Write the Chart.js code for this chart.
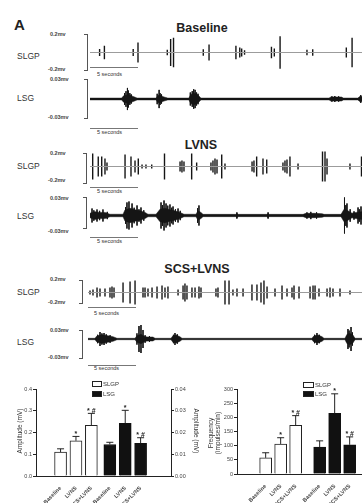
<!DOCTYPE html>
<html>
<head>
<meta charset="utf-8">
<script src="https://cdn.jsdelivr.net/npm/chart.js@4.4.0/dist/chart.umd.min.js"></script>
<style>
  body { margin:0; width:362px; height:503px; overflow:hidden; background:#fff; position:relative;
         font-family:"Liberation Sans", Arial, sans-serif; color:#222; }
  .t { position:absolute; white-space:nowrap; line-height:1; }
  canvas { position:absolute; }
  .panel { font-weight:bold; font-size:15px; }
  .title { font-weight:bold; font-size:12.5px; transform:translate(-50%,-50%); }
  .ch { font-size:8.5px; transform:translateY(-50%); color:#333; }
  .mv { font-size:5.5px; font-weight:bold; transform:translateY(-50%); color:#444; }
  .sec { font-size:5.5px; transform:translateY(-50%); color:#333; }
  .brk { position:absolute; width:3px; border:1px solid #555; border-left:none; }
  .bar { position:absolute; height:0; border-top:1px solid #777; }
  .ytl { font-size:6.5px; transform:translate(-50%,-50%) rotate(-90deg); text-align:center; color:#333; }
  .ytr { font-size:6.5px; transform:translate(-50%,-50%) rotate(90deg); color:#333; }
  .lgbox { position:absolute; width:8px; height:4px; border:1px solid #222; }
  .lg { font-size:6px; transform:translateY(-50%); color:#333; }
</style>
</head>
<body>

<div class="t panel" style="left:14px;top:17px">A</div>

<!-- Baseline -->
<div class="t title" style="left:202px;top:28px">Baseline</div>
<div class="t ch" style="left:17px;top:56px">SLGP</div>
<div class="t mv" style="left:50px;top:35px">0.2mv</div>
<div class="t mv" style="left:48px;top:70px">-0.2mv</div>
<div class="brk" style="left:84px;top:34px;height:35px"></div>
<div class="bar" style="left:90px;top:67px;width:48px"></div>
<div class="t sec" style="left:97px;top:75px">5 seconds</div>
<div class="t ch" style="left:17px;top:98px">LSG</div>
<div class="t mv" style="left:50px;top:80px">0.03mv</div>
<div class="t mv" style="left:48px;top:118px">-0.03mv</div>
<div class="brk" style="left:84px;top:79px;height:38px"></div>
<div class="bar" style="left:90px;top:128px;width:48px"></div>
<div class="t sec" style="left:97px;top:133px">5 seconds</div>

<!-- LVNS -->
<div class="t title" style="left:201px;top:145px">LVNS</div>
<div class="t ch" style="left:17px;top:166px">SLGP</div>
<div class="t mv" style="left:50px;top:154px">0.2mv</div>
<div class="t mv" style="left:48px;top:181px">-0.2mv</div>
<div class="brk" style="left:83px;top:153px;height:29px"></div>
<div class="bar" style="left:90px;top:187px;width:48px"></div>
<div class="t sec" style="left:97px;top:192px">5 seconds</div>
<div class="t ch" style="left:17px;top:216px">LSG</div>
<div class="t mv" style="left:50px;top:199px">0.03mv</div>
<div class="t mv" style="left:48px;top:232px">-0.03mv</div>
<div class="brk" style="left:83px;top:197px;height:30px"></div>
<div class="bar" style="left:90px;top:237px;width:48px"></div>
<div class="t sec" style="left:97px;top:242px">5 seconds</div>

<!-- SCS+LVNS -->
<div class="t title" style="left:197px;top:269px">SCS+LVNS</div>
<div class="t ch" style="left:17px;top:292px">SLGP</div>
<div class="t mv" style="left:50px;top:280px">0.2mv</div>
<div class="t mv" style="left:48px;top:303px">-0.2mv</div>
<div class="brk" style="left:79px;top:280px;height:22px"></div>
<div class="bar" style="left:88px;top:307px;width:48px"></div>
<div class="t sec" style="left:94px;top:314px">5 seconds</div>
<div class="t ch" style="left:17px;top:342px">LSG</div>
<div class="t mv" style="left:50px;top:331px">0.03mv</div>
<div class="t mv" style="left:48px;top:358px">-0.03mv</div>
<div class="brk" style="left:79px;top:330px;height:27px"></div>
<div class="bar" style="left:88px;top:365px;width:48px"></div>
<div class="t sec" style="left:94px;top:369px">5 seconds</div>

<canvas id="blSlgp"></canvas>
<canvas id="blLsg"></canvas>
<canvas id="lvSlgp"></canvas>
<canvas id="lvLsg"></canvas>
<canvas id="scSlgp"></canvas>
<canvas id="scLsg"></canvas>

<canvas id="ampChart"></canvas>
<canvas id="freqChart"></canvas>

<!-- axis titles and legends of the bar charts -->
<div class="t ytl" style="left:20px;top:431px">Amplitude (mV)</div>
<div class="t ytr" style="left:196px;top:431px">Amplitude (mV)</div>
<div class="t ytl" style="left:214px;top:433px;line-height:7px">Frequency<br>(impulses/min)</div>

<div class="lgbox" style="left:92px;top:381px;background:#fff"></div>
<div class="t lg" style="left:103px;top:384px">SLGP</div>
<div class="lgbox" style="left:92px;top:391px;background:#111"></div>
<div class="t lg" style="left:103px;top:394px">LSG</div>

<div class="lgbox" style="left:303px;top:382px;background:#fff;width:9px"></div>
<div class="t lg" style="left:315px;top:385px">SLGP</div>
<div class="lgbox" style="left:303px;top:391px;background:#111;width:9px"></div>
<div class="t lg" style="left:315px;top:394px">LSG</div>

<script>
const FONT = '"Liberation Sans", Arial, sans-serif';
const PX_PER_SEC = 9.6;

// ---- nerve recordings: spike times (s) and half-amplitudes (mV) ----
const baseSlgpT   = [1.0, 1.5, 4.5, 5.0, 8.05, 8.4, 8.7, 11.8, 12.4, 15.2, 15.6, 15.8, 16.1, 18.9, 19.2, 19.8, 22.6, 23.2, 26.7, 27.3];
const baseSlgpAmp = [0.04, 0.075, 0.04, 0.11, 0.03, 0.15, 0.165, 0.035, 0.09, 0.075, 0.055, 0.045, 0.025, 0.065, 0.045, 0.18, 0.03, 0.035, 0.055, 0.165];

const baseLsgEnvT   = [0, 3.3, 3.5, 4.0, 4.5, 4.9, 6.9, 7.05, 7.25, 7.7, 8.1, 10.3, 10.5, 10.9, 11.3, 11.55, 24.9, 25.1, 26.2, 26.4, 27.9, 28.1, 28.4];
const baseLsgEnvAmp = [0.0014, 0.0014, 0.005, 0.0065, 0.004, 0.0014, 0.0014, 0.005, 0.006, 0.0032, 0.0014, 0.0014, 0.007, 0.009, 0.0055, 0.0014, 0.0014, 0.0032, 0.003, 0.0014, 0.0014, 0.004, 0.004];
const baseLsgT   = [3.6, 3.75, 3.9, 4.0, 4.15, 4.3, 7.0, 7.2, 7.3, 7.45, 10.45, 10.65, 10.8, 10.95, 11.1, 11.25, 25.2, 25.5, 25.9, 28.2];
const baseLsgAmp = [0.009, 0.012, 0.017, 0.013, 0.009, 0.007, 0.008, 0.014, 0.009, 0.007, 0.01, 0.012, 0.015, 0.014, 0.01, 0.008, 0.004, 0.0045, 0.004, 0.006];

const lvnsSlgpT   = [0.28, 0.86, 1.22, 1.56, 1.77, 3.65, 4.27, 4.69, 5.03, 5.42, 5.83, 6.43, 7.76, 9.38, 9.58, 9.79, 10.59, 11.11,
                     12.6, 12.81, 13.02, 13.23, 13.72, 14.06, 16.88, 17.08, 17.36, 18.02, 18.41, 20.1, 20.31, 20.52, 20.83, 21.67,
                     24.22, 24.48, 24.69, 27.08, 28.28];
const lvnsSlgpAmp = [0.173, 0.133, 0.133, 0.107, 0.053, 0.16, 0.133, 0.08, 0.107, 0.027, 0.027, 0.027, 0.173, 0.067, 0.08, 0.067, 0.173, 0.053,
                     0.053, 0.08, 0.107, 0.093, 0.16, 0.04, 0.067, 0.08, 0.133, 0.107, 0.093, 0.053, 0.08, 0.093, 0.133, 0.04,
                     0.2, 0.2, 0.107, 0.04, 0.133];

const lvnsLsgEnvT   = [0, 0.52, 1.04, 1.56, 2.08, 3.44, 3.65, 4.17, 4.69, 5.21, 5.73, 6.04, 6.88, 7.29, 7.81, 8.33, 8.85, 9.38, 9.79,
                       11.04, 11.25, 11.56, 11.77, 15.21, 15.31, 15.42, 18.44, 18.54, 18.65, 22.19, 22.5, 23.44, 24.17, 24.38,
                       26.15, 26.46, 26.88, 27.29, 27.71, 28.33];
const lvnsLsgEnvAmp = [0.0045, 0.0075, 0.006, 0.006, 0.0024, 0.0024, 0.011, 0.014, 0.011, 0.009, 0.006, 0.0024, 0.0024, 0.012, 0.014, 0.011, 0.009, 0.006, 0.0024,
                       0.0024, 0.009, 0.006, 0.0022, 0.0022, 0.004, 0.0022, 0.0022, 0.004, 0.0022, 0.0022, 0.0042, 0.0042, 0.0035, 0.0022,
                       0.0022, 0.012, 0.009, 0.0045, 0.006, 0.0075];
const lvnsLsgT   = [0.21, 0.4, 0.73, 1.0, 1.35, 1.8, 3.7, 3.85, 4.06, 4.38, 4.6, 4.9, 5.1, 5.31, 5.6, 7.4, 7.55, 7.71, 7.92, 8.1, 8.33,
                    8.5, 8.65, 8.9, 9.17, 9.4, 11.2, 11.35, 15.3, 18.55, 22.6, 23.0, 23.6, 26.51, 26.65, 26.77, 27.1, 27.5, 27.92, 28.05, 28.23];
const lvnsLsgAmp = [0.0135, 0.01, 0.0116, 0.009, 0.0116, 0.007, 0.016, 0.0252, 0.0271, 0.0232, 0.015, 0.0194, 0.012, 0.0155, 0.01, 0.0252, 0.02, 0.029, 0.0232, 0.019, 0.0213,
                    0.015, 0.0174, 0.012, 0.0135, 0.009, 0.014, 0.0194, 0.006, 0.006, 0.006, 0.007, 0.006, 0.0348, 0.02, 0.0232, 0.012, 0.008, 0.0155, 0.012, 0.0174];

const scsSlgpT   = [0.21, 0.52, 0.94, 1.25, 1.77, 2.29, 2.5, 2.71, 3.65, 4.38, 4.9, 5.73, 5.94, 6.25, 6.67, 7.19, 7.71, 8.02, 8.33, 9.38,
                    9.9, 10.1, 10.31, 10.83, 11.15, 11.56, 11.77, 13.33, 13.54, 14.27, 14.69, 15.1, 15.52, 16.15, 17.08, 17.6, 18.02,
                    18.33, 18.65, 19.48, 20.21, 20.73, 21.25, 21.46, 21.98, 23.13, 23.44, 23.65, 24.06, 24.9, 25.21, 25.52, 26.25, 27.29];
const scsSlgpAmp = [0.035, 0.052, 0.087, 0.07, 0.07, 0.087, 0.104, 0.087, 0.174, 0.191, 0.209, 0.087, 0.087, 0.07, 0.087, 0.104, 0.122, 0.087, 0.104, 0.052,
                    0.122, 0.157, 0.122, 0.087, 0.087, 0.104, 0.087, 0.07, 0.087, 0.209, 0.209, 0.052, 0.07, 0.07, 0.139, 0.139, 0.174,
                    0.209, 0.104, 0.07, 0.122, 0.07, 0.087, 0.122, 0.104, 0.104, 0.122, 0.122, 0.07, 0.07, 0.087, 0.07, 0.07, 0.035];

const scsLsgEnvT   = [0, 0.73, 0.94, 1.46, 2.08, 2.6, 3.02, 4.9, 5.1, 5.52, 5.94, 6.25, 6.77, 6.98, 8.65, 8.85, 9.17, 9.58, 9.79,
                      23.33, 23.54, 23.96, 24.38, 24.58, 26.77, 26.98, 27.29, 27.6, 27.81, 28.54];
const scsLsgEnvAmp = [0.0015, 0.0015, 0.007, 0.009, 0.007, 0.005, 0.0015, 0.0015, 0.007, 0.01, 0.005, 0.0042, 0.0042, 0.0015, 0.0015, 0.007, 0.0085, 0.005, 0.0015,
                      0.0015, 0.007, 0.0085, 0.005, 0.0015, 0.0015, 0.01, 0.012, 0.0085, 0.0015, 0.0015];
const scsLsgT   = [1.0, 1.25, 1.45, 1.67, 1.9, 2.3, 5.1, 5.31, 5.52, 5.73, 5.95, 6.4, 8.9, 9.06, 9.3, 23.6, 23.85, 24.1, 27.08, 27.2, 27.4, 27.55];
const scsLsgAmp = [0.009, 0.015, 0.012, 0.0128, 0.01, 0.008, 0.012, 0.0278, 0.03, 0.0193, 0.008, 0.006, 0.009, 0.0128, 0.01, 0.009, 0.0128, 0.009, 0.0214, 0.018, 0.0257, 0.014];

// ---- summary bars (mean and SEM) ----
const groups = ['Baseline', 'LVNS', 'SCS+LVNS'];
const slgpAmplitude    = [0.11, 0.162, 0.233];
const slgpAmplitudeSem = [0.015, 0.02, 0.055];
const lsgAmplitude     = [0.0145, 0.0242, 0.015];
const lsgAmplitudeSem  = [0.001, 0.006, 0.0026];
const slgpFrequency    = [57, 106, 172];
const slgpFrequencySem = [18, 22, 34];
const lsgFrequency     = [95, 214, 103];
const lsgFrequencySem  = [22, 69, 28];
const slgpMarks = ['', '*', '* #'];
const lsgMarks  = ['', '*', '* #'];

const ampTicks    = [0, 0.1, 0.2, 0.3, 0.4];
const lsgAmpTicks = [0, 0.01, 0.02, 0.03, 0.04];
const freqTicks   = [0, 50, 100, 150, 200, 250, 300];

// vertical line per spike, broken between spikes
function spikePoints(times, amps) {
  const pts = [];
  times.forEach((t, i) => {
    pts.push({ x: t, y: amps[i] }, { x: t, y: -amps[i] }, { x: t, y: null });
  });
  return pts;
}

function envelope(times, amps, sign) {
  return times.map((t, i) => ({ x: t, y: sign * amps[i] }));
}

function drawTrace(id, spec) {
  const cv = document.getElementById(id);
  const w = 362 - spec.x0;
  const h = Math.round(spec.half * 3.4);
  cv.width = w;
  cv.height = h;
  cv.style.left = spec.x0 + 'px';
  cv.style.top = Math.round(spec.y - h / 2) + 'px';
  const range = spec.full * (h / 2) / spec.half;
  const tMax = w / PX_PER_SEC;

  const datasets = [];
  if (spec.envT) {
    datasets.push({ data: envelope(spec.envT, spec.envA, 1), borderColor: '#151515', borderWidth: 0.5 });
    datasets.push({ data: envelope(spec.envT, spec.envA, -1), borderColor: '#151515', borderWidth: 0.5,
                    fill: '-1', backgroundColor: '#151515' });
  } else {
    datasets.push({ data: [{ x: 0, y: 0 }, { x: tMax, y: 0 }], borderColor: '#9c9c9c', borderWidth: 1 });
  }
  datasets.push({ data: spikePoints(spec.spikeT, spec.spikeA), borderColor: '#151515',
                  borderWidth: spec.envT ? 0.9 : 1.4, spanGaps: false });

  new Chart(cv, {
    type: 'line',
    data: { datasets },
    options: {
      responsive: false, animation: false, events: [],
      layout: { padding: 0 },
      elements: { point: { radius: 0 }, line: { tension: 0 } },
      plugins: { legend: { display: false }, tooltip: { enabled: false } },
      scales: {
        x: { type: 'linear', display: false, min: 0, max: tMax },
        y: { display: false, min: -range, max: range }
      }
    }
  });
}

drawTrace('blSlgp', { x0: 90, y: 52.5, half: 18, full: 0.2, spikeT: baseSlgpT, spikeA: baseSlgpAmp });
drawTrace('blLsg',  { x0: 90, y: 99, half: 19.5, full: 0.03, spikeT: baseLsgT, spikeA: baseLsgAmp, envT: baseLsgEnvT, envA: baseLsgEnvAmp });
drawTrace('lvSlgp', { x0: 90, y: 166, half: 15, full: 0.2, spikeT: lvnsSlgpT, spikeA: lvnsSlgpAmp });
drawTrace('lvLsg',  { x0: 90, y: 215, half: 15.5, full: 0.03, spikeT: lvnsLsgT, spikeA: lvnsLsgAmp, envT: lvnsLsgEnvT, envA: lvnsLsgEnvAmp });
drawTrace('scSlgp', { x0: 88, y: 292, half: 11.5, full: 0.2, spikeT: scsSlgpT, spikeA: scsSlgpAmp });
drawTrace('scLsg',  { x0: 88, y: 339, half: 14, full: 0.03, spikeT: scsLsgT, spikeA: scsLsgAmp, envT: scsLsgEnvT, envA: scsLsgEnvAmp });

// SEM whiskers and significance marks on top of the bars
const semPlugin = {
  id: 'sem',
  afterDatasetsDraw(chart) {
    const ctx = chart.ctx;
    ctx.save();
    chart.data.datasets.forEach((ds, di) => {
      const scale = chart.scales[ds.yAxisID];
      chart.getDatasetMeta(di).data.forEach((bar, i) => {
        const top = scale.getPixelForValue(ds.data[i].y + ds.sem[i]);
        ctx.strokeStyle = '#222';
        ctx.lineWidth = 1;
        ctx.beginPath();
        ctx.moveTo(bar.x, bar.y);
        ctx.lineTo(bar.x, top);
        ctx.moveTo(bar.x - 3.5, top);
        ctx.lineTo(bar.x + 3.5, top);
        ctx.stroke();
        if (ds.marks[i]) {
          ctx.fillStyle = '#222';
          ctx.font = 'bold 7px ' + FONT;
          ctx.textAlign = 'center';
          ctx.textBaseline = 'bottom';
          ctx.fillText(ds.marks[i], bar.x, top + 1);
        }
      });
    });
    ctx.restore();
  }
};

function valueAxis(ticks, digits, position, width) {
  return {
    type: 'linear', position, min: ticks[0], max: ticks[ticks.length - 1],
    afterBuildTicks: s => { s.ticks = ticks.map(v => ({ value: v })); },
    afterFit: s => { s.width = width; },
    grid: { drawOnChartArea: false, drawTicks: true, tickLength: 3, color: '#222' },
    border: { color: '#222', width: 1 },
    ticks: { font: { size: 5.5, family: FONT }, color: '#444', padding: 1,
             callback: v => Number(v).toFixed(digits) }
  };
}

function drawBars(id, spec) {
  const cv = document.getElementById(id);
  cv.width = 200;
  cv.height = 125;
  cv.style.left = spec.left + 'px';
  cv.style.top = '378px';
  const xs = spec.slgpX.concat(spec.lsgX);
  const names = groups.concat(groups);

  const scales = {
    x: {
      type: 'linear', min: spec.xMin, max: spec.xMax,
      afterBuildTicks: s => { s.ticks = xs.map(v => ({ value: v })); },
      afterFit: s => { s.height = spec.xHeight; },
      grid: { display: false },
      border: { color: '#222', width: 1 },
      ticks: { autoSkip: false, minRotation: 45, maxRotation: 45, padding: 1,
               font: { size: 5.5, weight: 'bold', family: FONT }, color: '#444',
               callback: (v, i) => names[i] }
    },
    y: valueAxis(spec.yTicks, spec.yDigits, 'left', spec.yWidth)
  };
  if (spec.y2Ticks) scales.y2 = valueAxis(spec.y2Ticks, 2, 'right', 29);

  new Chart(cv, {
    type: 'bar',
    data: {
      datasets: [
        { label: 'SLGP', yAxisID: 'y', data: spec.slgpX.map((x, i) => ({ x, y: spec.slgp[i] })),
          sem: spec.slgpSem, marks: slgpMarks,
          backgroundColor: '#fff', borderColor: '#222', borderWidth: 1, barThickness: 12, grouped: false },
        { label: 'LSG', yAxisID: spec.y2Ticks ? 'y2' : 'y', data: spec.lsgX.map((x, i) => ({ x, y: spec.lsg[i] })),
          sem: spec.lsgSem, marks: lsgMarks,
          backgroundColor: '#111', borderColor: '#111', borderWidth: 1, barThickness: 12, grouped: false }
      ]
    },
    options: {
      responsive: false, animation: false, events: [],
      layout: { padding: { top: 11, left: 0, right: 0, bottom: 0 } },
      plugins: { legend: { display: false }, tooltip: { enabled: false } },
      scales
    },
    plugins: [semPlugin]
  });
}

drawBars('ampChart', {
  left: 0, xMin: 0.135, xMax: 7.443, xHeight: 27, slgpX: [1, 2, 3], lsgX: [4.2, 5.2, 6.2],
  yTicks: ampTicks, yDigits: 1, yWidth: 36, y2Ticks: lsgAmpTicks,
  slgp: slgpAmplitude, slgpSem: slgpAmplitudeSem, lsg: lsgAmplitude, lsgSem: lsgAmplitudeSem
});

drawBars('freqChart', {
  left: 181, xMin: -0.111, xMax: 7.889, xHeight: 29, slgpX: [1, 2, 3], lsgX: [4.6, 5.6, 6.6],
  yTicks: freqTicks, yDigits: 0, yWidth: 56,
  slgp: slgpFrequency, slgpSem: slgpFrequencySem, lsg: lsgFrequency, lsgSem: lsgFrequencySem
});
</script>
</body>
</html>
